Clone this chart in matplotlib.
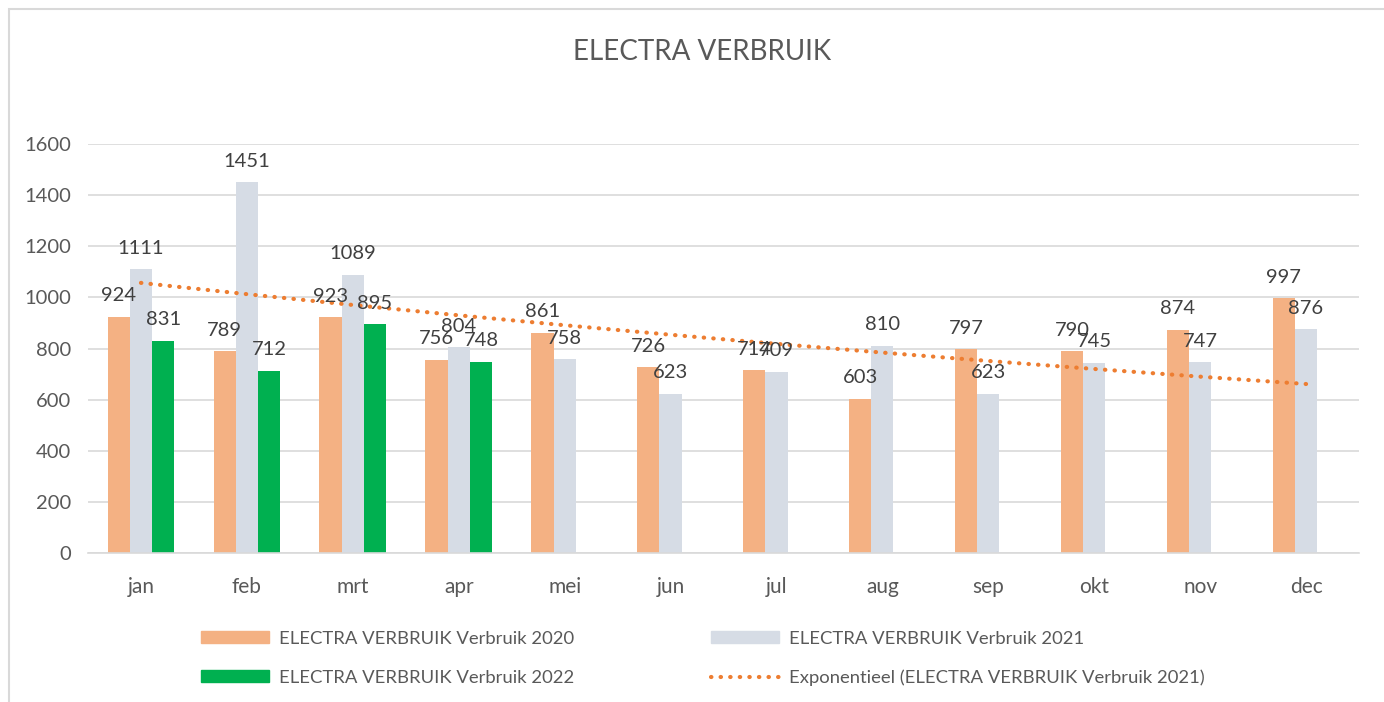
import numpy as np
import matplotlib
matplotlib.use("Agg")
import matplotlib.pyplot as plt
from matplotlib.patches import Patch, Rectangle
from matplotlib.lines import Line2D

months = ["jan", "feb", "mrt", "apr", "mei", "jun", "jul", "aug", "sep", "okt", "nov", "dec"]
v2020 = [924, 789, 923, 756, 861, 726, 714, 603, 797, 790, 874, 997]
v2021 = [1111, 1451, 1089, 804, 758, 623, 709, 810, 623, 745, 747, 876]
v2022 = [831, 712, 895, 748]

title = "ELECTRA VERBRUIK"
lab2020 = "ELECTRA VERBRUIK Verbruik 2020"
lab2021 = "ELECTRA VERBRUIK Verbruik 2021"
lab2022 = "ELECTRA VERBRUIK Verbruik 2022"
labtrend = "Exponentieel (ELECTRA VERBRUIK Verbruik 2021)"

c2020 = "#F4B183"
c2021 = "#D6DCE5"
c2022 = "#00B050"
ctrend = "#ED7D31"
ctext = "#595959"
cgrid = "#D9D9D9"

plt.rcParams['font.family'] = ['Lato', 'DejaVu Sans']

W, H = 1384, 702
fig = plt.figure(figsize=(W / 100, H / 100), dpi=100)

# chart border
fig.patches.append(Rectangle((9 / W, -0.05), 1.2, (H - 9) / H + 0.05, transform=fig.transFigure,
                             fill=False, edgecolor="#D9D9D9", linewidth=1.5))

left, right, top, bottom = 88, 1359, 144, 553
ax = fig.add_axes([left / W, (H - bottom) / H, (right - left) / W, (bottom - top) / H])

x = np.arange(len(months))
w = 0.21
b1 = ax.bar(x - w, v2020, w, color=c2020, label=lab2020, zorder=2)
b2 = ax.bar(x, v2021, w, color=c2021, label=lab2021, zorder=2)
b3 = ax.bar(x[:len(v2022)] + w, v2022, w, color=c2022, label=lab2022, zorder=2)

# exponential trendline on 2021 data
xs = np.arange(1, len(v2021) + 1)
coef = np.polyfit(xs, np.log(v2021), 1)
trend = np.exp(np.polyval(coef, xs))
ax.plot(x, trend, color=ctrend, linestyle=(0, (0.1, 2.2)), dash_capstyle='round',
        linewidth=3, zorder=4, label=labtrend)

lblfs = 14.5
for bars in (b1, b2, b3):
    for r in bars:
        ax.annotate(f"{int(r.get_height())}", (r.get_x() + r.get_width() / 2, r.get_height()),
                    xytext=(0, 9), textcoords="offset points", ha="center", va="bottom",
                    fontsize=lblfs, color="#404040", zorder=5)

ax.set_xlim(-0.5, len(months) - 0.5)
ax.set_ylim(0, 1600)
ax.set_yticks(np.arange(0, 1601, 200))
ax.set_xticks(x)
ax.set_xticklabels(months)
ax.tick_params(axis="y", length=0, labelsize=14.5, colors=ctext, pad=12)
ax.tick_params(axis="x", length=0, labelsize=15, colors=ctext, pad=17)
ax.yaxis.grid(True, color=cgrid, linewidth=1.2, zorder=0)
for s in ("left", "right", "top"):
    ax.spines[s].set_visible(False)
ax.spines["bottom"].set_color(cgrid)
ax.spines["bottom"].set_linewidth(1.2)
ax.set_axisbelow(True)

fig.text(702 / W, (H - 52) / H, title, ha="center", va="center", fontsize=20, color=ctext)

# legends (two columns)
hfs = 13.3
leg1 = fig.legend(handles=[Patch(color=c2020, label=lab2020), Patch(color=c2022, label=lab2022)],
                  loc="upper left", bbox_to_anchor=(184 / W, (H - 614) / H), frameon=False,
                  fontsize=hfs, labelcolor=ctext, handlelength=3.7, handleheight=0.65,
                  handletextpad=0.55, labelspacing=1.25)
leg2 = fig.legend(handles=[Patch(color=c2021, label=lab2021),
                           Line2D([0], [0], color=ctrend, linestyle=(0, (0.1, 2.2)),
                                  dash_capstyle='round', linewidth=3, label=labtrend)],
                  loc="upper left", bbox_to_anchor=(694 / W, (H - 614) / H), frameon=False,
                  fontsize=hfs, labelcolor=ctext, handlelength=3.7, handleheight=0.65,
                  handletextpad=0.55, labelspacing=1.25)

fig.savefig("out.png", dpi=100)
